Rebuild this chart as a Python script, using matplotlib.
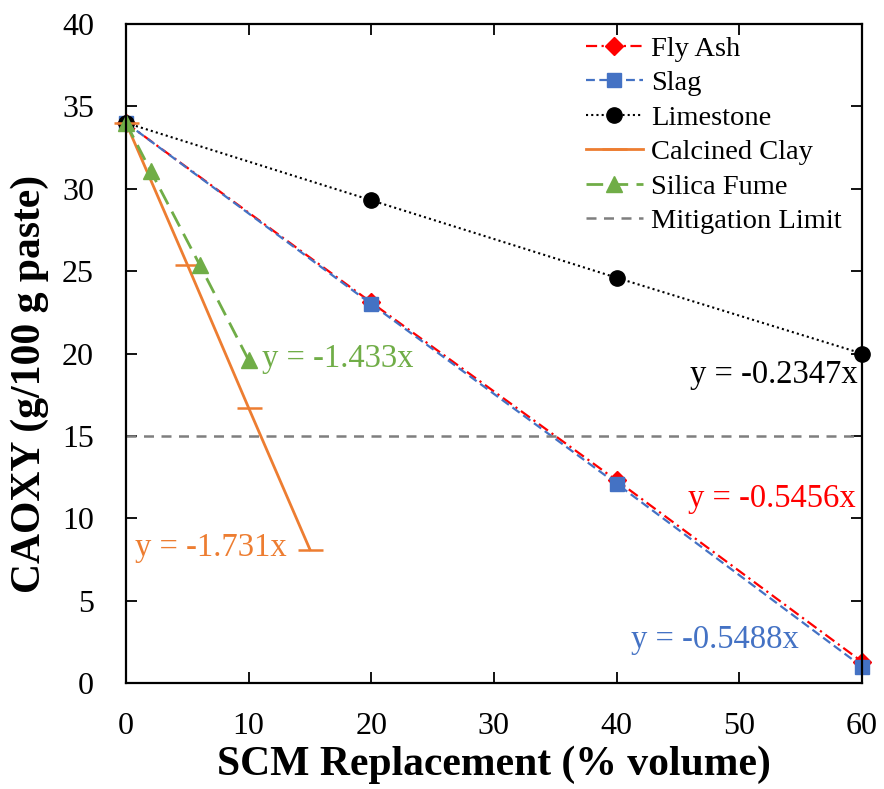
import matplotlib.pyplot as plt

plt.rcParams['font.family'] = ['Liberation Serif', 'DejaVu Serif']

# CAOXY content vs. SCM replacement level
fly_ash_x = [0, 20, 40, 60]
fly_ash_y = [34.0, 23.1, 12.3, 1.3]
slag_x = [0, 20, 40, 60]
slag_y = [34.0, 23.0, 12.1, 1.0]
limestone_x = [0, 20, 40, 60]
limestone_y = [34.0, 29.3, 24.6, 20.0]
clay_x = [0, 5, 10, 15]
clay_y = [34.0, 25.4, 16.7, 8.1]
silica_x = [0, 2, 6, 10]
silica_y = [34.0, 31.1, 25.4, 19.6]
limit_x = [0, 60]
limit_y = [15, 15]

fit_labels = ['y = -0.5456x', 'y = -0.5488x', 'y = -0.2347x', 'y = -1.731x', 'y = -1.433x']

red = '#FF0000'
blue = '#4472C4'
orange = '#ED7D31'
green = '#70AD47'
grey = '#7F7F7F'

fig = plt.figure(figsize=(8.84, 7.89), dpi=100)
ax = fig.add_axes([0.1425, 0.1343, 0.8325, 0.8353])

ax.plot(fly_ash_x, fly_ash_y, color=red, ls=(0, (5, 2, 1, 2)), lw=1.6, marker='D', ms=9,
        label='Fly Ash', clip_on=False)
ax.plot(slag_x, slag_y, color=blue, ls=(0, (4, 2)), lw=1.6, marker='s', ms=10,
        label='Slag', clip_on=False)
ax.plot(limestone_x, limestone_y, color='black', ls=(0, (1, 1.5)), lw=1.5, marker='o', ms=11,
        label='Limestone', clip_on=False)
ax.plot(clay_x, clay_y, color=orange, ls='-', lw=2, marker='_', ms=18, mew=1.8,
        label='Calcined Clay', clip_on=False)
ax.plot(silica_x, silica_y, color=green, ls=(0, (6, 3)), lw=2, marker='^', ms=12,
        label='Silica Fume', clip_on=False)
ax.plot(limit_x, limit_y, color=grey, ls=(0, (4, 3)), lw=1.8, label='Mitigation Limit')

fs = 23.5
ax.text(45.8, 11.2, fit_labels[0], color=red, fontsize=fs, va='center')
ax.text(41.2, 2.6, fit_labels[1], color=blue, fontsize=fs, va='center')
ax.text(46.0, 18.7, fit_labels[2], color='black', fontsize=fs, va='center')
ax.text(0.7, 8.2, fit_labels[3], color=orange, fontsize=fs, va='center')
ax.text(11.1, 19.7, fit_labels[4], color=green, fontsize=fs, va='center')

ax.set_xlim(0, 60)
ax.set_ylim(0, 40)
ax.set_xticks(range(0, 61, 10))
ax.set_yticks(range(0, 41, 5))
ax.tick_params(direction='in', top=True, right=True, length=8, width=1.3, labelsize=23)
ax.tick_params(axis='x', pad=21)
ax.tick_params(axis='y', pad=23)
for s in ax.spines.values():
    s.set_linewidth(1.6)

ax.set_xlabel('SCM Replacement (% volume)', fontsize=30, fontweight='bold', labelpad=3)
ax.set_ylabel('CAOXY (g/100 g paste)', fontsize=30, fontweight='bold')
ax.yaxis.set_label_coords(-0.104, 0.454)

ax.legend(loc='upper right', bbox_to_anchor=(1.0, 1.012), frameon=False, fontsize=20.5,
          handlelength=2.0, handletextpad=0.3, labelspacing=0.3, borderaxespad=0.3)

fig.savefig('out.png', dpi=100)
